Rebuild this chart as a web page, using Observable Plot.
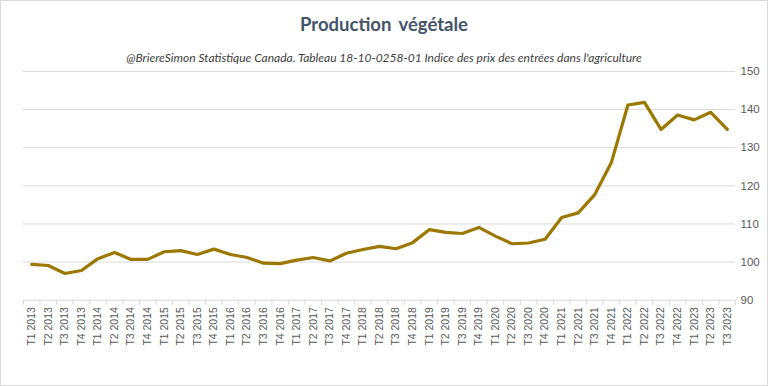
<!DOCTYPE html>
<html>
<head>
<meta charset="utf-8">
<script src="https://cdn.jsdelivr.net/npm/d3@7"></script>
<script src="https://cdn.jsdelivr.net/npm/@observablehq/plot@0.6"></script>
<style>
  html, body { margin: 0; padding: 0; background: #fff; }
  #frame { position: relative; width: 766px; height: 384px; border: 1px solid #D9D9D9; overflow: hidden; background: #fff; }
  #title { position: absolute; left: 0; width: 766px; top: 12px; text-align: center; font-family: Lato, "Open Sans", sans-serif; font-weight: bold; font-size: 18.5px; color: #44546A; word-spacing: 3px; }
  #subtitle { position: absolute; left: 0; width: 766px; top: 49px; text-align: center; font-family: Lato, "Open Sans", sans-serif; font-style: italic; font-size: 12px; color: #404040; }
  #chart { position: absolute; left: -1px; top: 61px; }
</style>
</head>
<body>
<div id="frame">
  <div id="title">Production végétale</div>
  <div id="subtitle">@BriereSimon Statistique Canada. Tableau 18-10-0258-01 Indice des prix des entrées dans l'agriculture</div>
  <div id="chart"></div>
</div>
<script>
const quarters = ["T1","T2","T3","T4"];
const years = [2013,2014,2015,2016,2017,2018,2019,2020,2021,2022,2023];
const labels = [];
for (const y of years) for (const q of quarters) labels.push(q + " " + y);
labels.splice(43); // T1 2013 .. T3 2023

const values = [
  99.4, 99.1, 97.0, 97.8, 100.9, 102.5, 100.7, 100.7,
  102.7, 103.0, 102.0, 103.4, 102.0, 101.2, 99.7, 99.6,
  100.5, 101.2, 100.3, 102.3, 103.3, 104.1, 103.5, 105.1,
  108.5, 107.8, 107.5, 109.1, 106.8, 104.8, 105.0, 106.0,
  111.7, 112.9, 117.7, 126.1, 141.2, 141.9, 134.8, 138.6,
  137.3, 139.3, 134.8
];
const yTicks = [90, 100, 110, 120, 130, 140, 150];

const data = values.map((v, i) => ({i, label: labels[i], v}));
const idx = labels.map((_, i) => i);
const bounds = d3.range(-0.5, labels.length, 1);

const chart = Plot.plot({
  width: 768,
  height: 324,
  marginTop: 9,
  marginBottom: 86,
  marginLeft: 23,
  marginRight: 32,
  style: {fontFamily: "'Liberation Sans', Arial, sans-serif", background: "transparent"},
  x: {domain: [-0.5, labels.length - 0.5], axis: null},
  y: {domain: [90, 150], axis: null},
  marks: [
    Plot.gridY(yTicks, {stroke: "#D9D9D9", strokeOpacity: 1, strokeWidth: 1}),
    Plot.axisX(bounds, {tickSize: 5, stroke: "#D9D9D9", tickFormat: () => "", tickPadding: 0, label: null}),
    Plot.axisX(idx, {tickSize: 0, tickRotate: -90, tickPadding: 7, fontSize: 10.5, fill: "#595959", tickFormat: i => labels[i], label: null}),
    Plot.axisY(yTicks, {anchor: "right", tickSize: 0, tickPadding: 5, fontSize: 11.5, fill: "#595959", label: null}),
    Plot.line(data, {x: "i", y: "v", stroke: "#9C7800", strokeWidth: 3.2, strokeLinejoin: "round"})
  ]
});
document.getElementById("chart").appendChild(chart);
</script>
</body>
</html>
